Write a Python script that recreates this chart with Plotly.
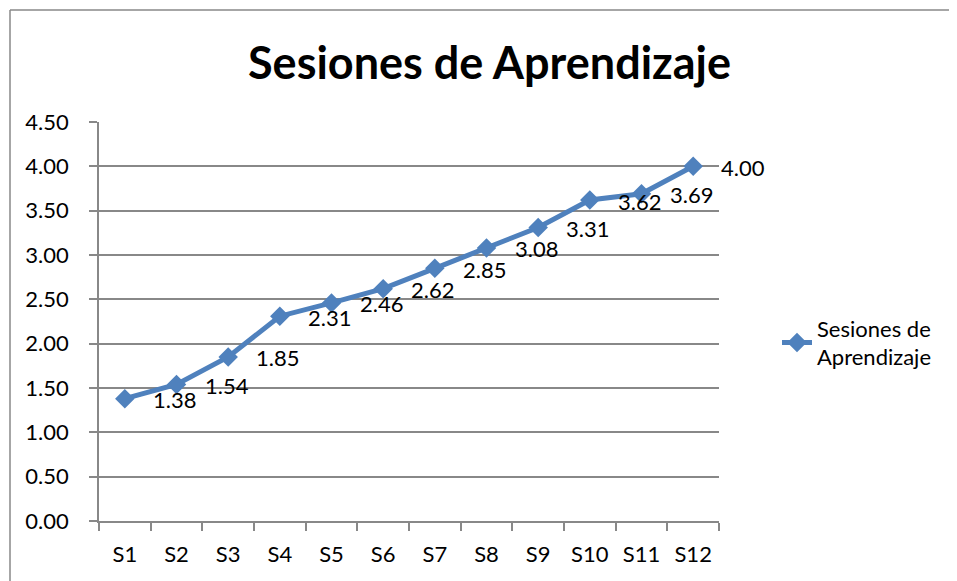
import plotly.graph_objects as go

categories = ["S1", "S2", "S3", "S4", "S5", "S6", "S7", "S8", "S9", "S10", "S11", "S12"]
values = [1.38, 1.54, 1.85, 2.31, 2.46, 2.62, 2.85, 3.08, 3.31, 3.62, 3.69, 4.00]
series_name = "Sesiones de Aprendizaje"
title_text = "Sesiones de Aprendizaje"
y_ticks = [0, 0.5, 1.0, 1.5, 2.0, 2.5, 3.0, 3.5, 4.0, 4.5]

# page body has an 8px default margin; work in reference pixels shifted by OFF
OFF = 8
W, H = 957, 581
ML, MT = 99 - OFF, 122 - OFF
PLOT_R, PLOT_B = 719 - OFF, 521 - OFF
MR, MB = W - PLOT_R, H - PLOT_B
PW, PH = PLOT_R - ML, PLOT_B - MT

def px_x(p):
    return (p - OFF - ML) / PW

def px_y(p):
    return (PLOT_B - (p - OFF)) / PH

BLUE = "#4F81BD"
GRAY = "#888888"
FONT = "Lato"

fig = go.Figure()
fig.add_trace(go.Scatter(
    x=categories, y=values, mode="lines+markers", name="Sesiones de<br>Aprendizaje",
    line=dict(color=BLUE, width=5),
    marker=dict(symbol="diamond", size=15, color=BLUE),
))

for c, v in zip(categories, values):
    fig.add_annotation(x=c, y=v, text=f"{v:.2f}", showarrow=False,
                       xanchor="left", yanchor="middle", xshift=26, yshift=-1,
                       font=dict(family=FONT, size=22, color="#000000"))

fig.add_annotation(xref="paper", yref="paper", x=px_x(489), y=px_y(62),
                   text=f"<b>{title_text}</b>", showarrow=False,
                   xanchor="center", yanchor="middle",
                   font=dict(family=FONT, size=45, color="#000000"))

# chart frame
fig.add_shape(type="line", xref="paper", yref="paper",
              x0=px_x(10), y0=px_y(10), x1=px_x(975), y1=px_y(10),
              line=dict(color=GRAY, width=1.5))
fig.add_shape(type="line", xref="paper", yref="paper",
              x0=px_x(10), y0=px_y(10), x1=px_x(10), y1=px_y(600),
              line=dict(color=GRAY, width=1.5))

fig.update_layout(
    width=W, height=H,
    margin=dict(l=ML, r=MR, t=MT, b=MB),
    paper_bgcolor="white", plot_bgcolor="white",
    font=dict(family=FONT, size=22, color="#000000"),
    showlegend=True,
    legend=dict(x=px_x(777), y=px_y(343), xanchor="left", yanchor="middle",
                font=dict(family=FONT, size=22, color="#000000"),
                bgcolor="rgba(0,0,0,0)", borderwidth=0),
)
fig.update_xaxes(type="category", range=[-0.5, 11.5], showgrid=False,
                 showline=True, linecolor=GRAY, linewidth=1.5,
                 ticks="outside", tickson="boundaries", ticklen=8, tickcolor=GRAY, tickwidth=1.5,
                 ticklabelstandoff=13, tickfont=dict(family=FONT, size=22, color="#000000"))
fig.update_yaxes(range=[0, 4.5], tickvals=y_ticks, tickformat=".2f",
                 showgrid=True, gridcolor=GRAY, gridwidth=1.5,
                 showline=True, linecolor=GRAY, linewidth=1.5, zeroline=False,
                 ticks="outside", ticklen=8, tickcolor=GRAY, tickwidth=1.5,
                 ticklabelstandoff=16, tickfont=dict(family=FONT, size=22, color="#000000"))

fig.write_html("out.html")
